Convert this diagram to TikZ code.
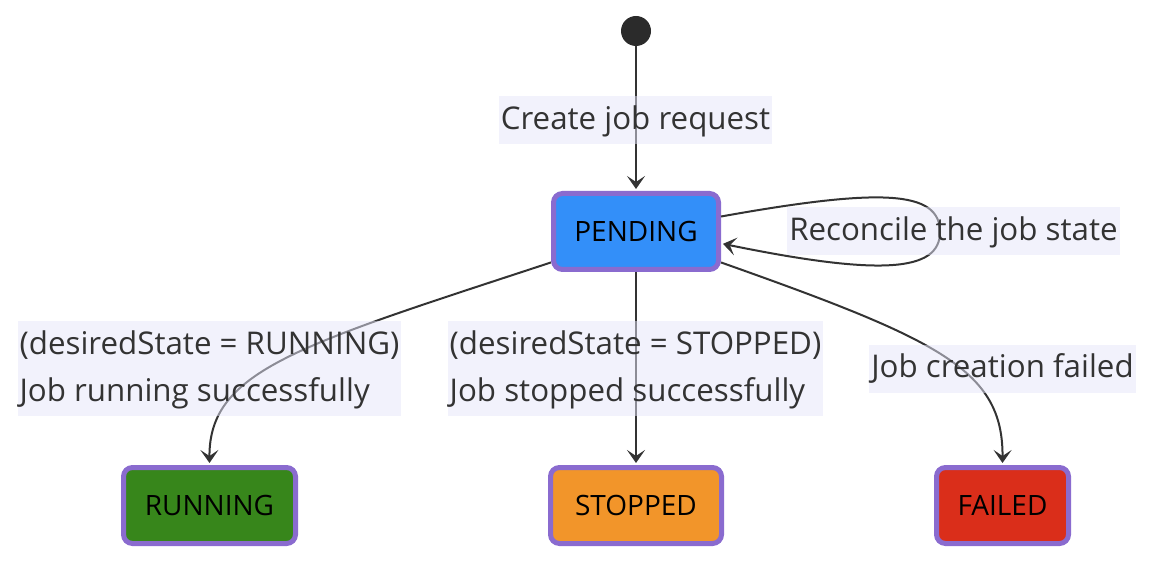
\documentclass[tikz,border=0pt]{standalone}
\usepackage{fontspec}
\setmainfont{Open Sans}
\usetikzlibrary{arrows.meta}
\definecolor{edgec}{HTML}{333333}
\definecolor{statebd}{HTML}{8A6BCF}
\definecolor{pendc}{HTML}{338FF9}
\definecolor{runc}{HTML}{37861B}
\definecolor{stopc}{HTML}{F2952A}
\definecolor{failc}{HTML}{DA2E1A}
\definecolor{lblbg}{HTML}{E6E6FA}
\definecolor{lbltext}{HTML}{333333}
\tikzset{
  statebox/.style={draw=statebd, line width=5pt, rounded corners=9pt, minimum height=76pt,
    inner sep=0pt, text=black, font=\fontsize{28}{32}\selectfont},
  edge/.style={draw=edgec, line width=2pt, -{Stealth[length=13pt,width=18pt,inset=6pt]}, shorten >=2pt},
  lbl/.style={fill=lblbg, fill opacity=0.5, text opacity=1, text=lbltext, inner xsep=2pt, inner ysep=0.5pt,
    align=left, font=\fontsize{31.3}{47}\selectfont},
}
\begin{document}
\begin{tikzpicture}[x=1pt,y=-1pt]
\useasboundingbox (0,0) rectangle (1152,572);
\node[circle, fill=edgec!85!black, minimum size=30pt, inner sep=0pt] (start) at (636,31) {};
\node[statebox, fill=pendc, minimum width=165pt] (pending) at (636,231.5) {PENDING};
\node[statebox, fill=runc, minimum width=172pt] (running) at (209.5,505.5) {RUNNING};
\node[statebox, fill=stopc, minimum width=171pt] (stopped) at (636,505.5) {STOPPED};
\node[statebox, fill=failc, minimum width=132pt] (failed) at (1002.5,505.5) {FAILED};

\draw[edge] (start) -- (pending);
\draw[edge] (pending.10) .. controls (880,188) and (940,190) .. (940,232)
  .. controls (940,272) and (880,276) .. (pending.-8);
\draw[edge] (pending.-160) .. controls (300,345) and (209,370) .. (running.north);
\draw[edge] (pending) -- (stopped);
\draw[edge] (pending.-20) .. controls (940,340) and (1003,370) .. (failed.north);

\node[lbl] (l1) at (635.5,120) {\strut Create job request};
\node[lbl] (l2) at (953.5,231.5) {\strut Reconcile the job state};
\node[lbl] (l3) at (209.5,368.5) {\strut (desiredState = RUNNING)\\\strut Job running successfully};
\node[lbl] (l4) at (635.5,368.5) {\strut (desiredState = STOPPED)\\\strut Job stopped successfully};
\node[lbl] (l5) at (1002.5,368.5) {\strut Job creation failed};
\end{tikzpicture}
\end{document}
